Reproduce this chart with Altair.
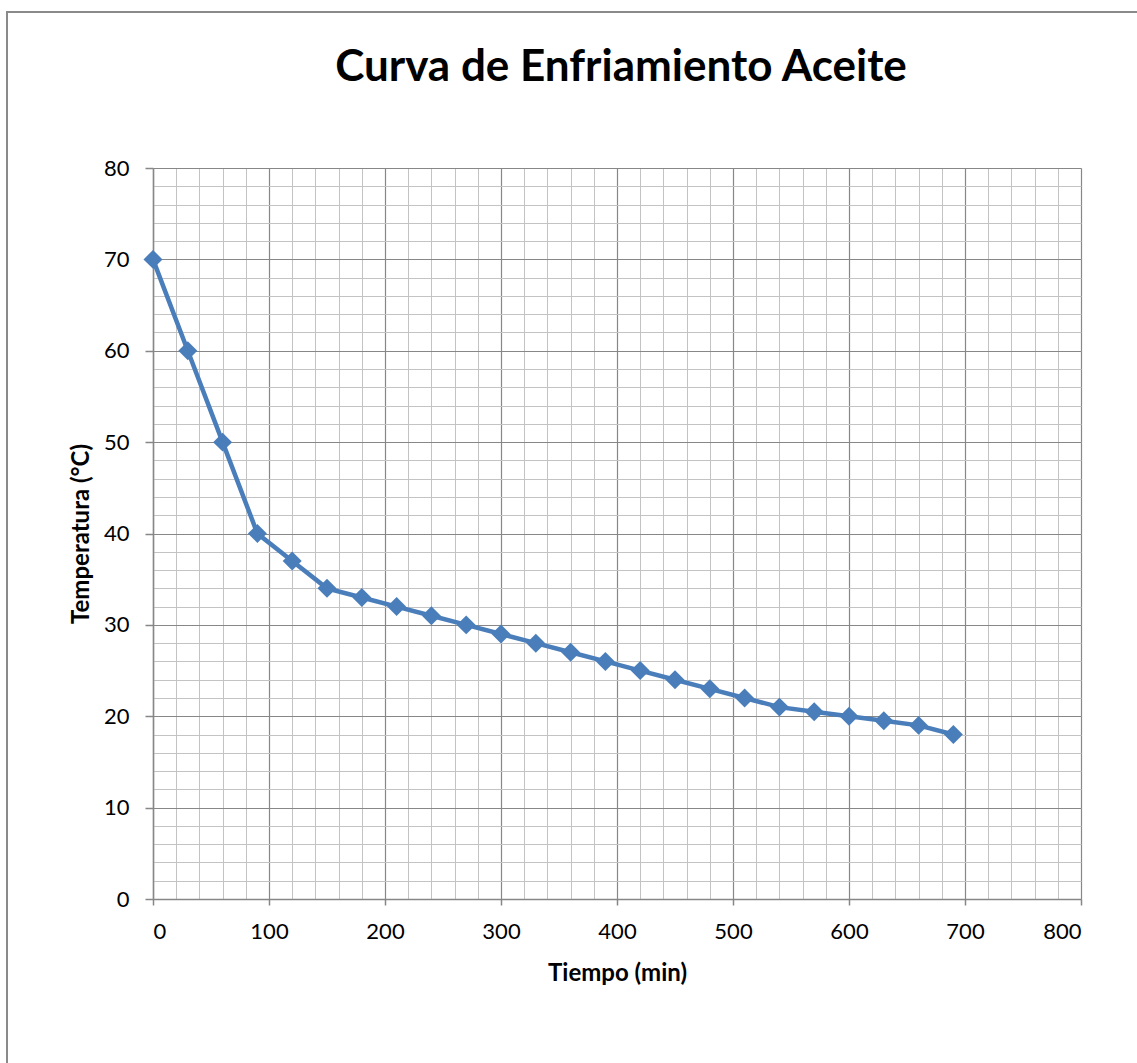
import altair as alt
import pandas as pd

tiempo = [0, 30, 60, 90, 120, 150, 180, 210, 240, 270, 300, 330, 360, 390, 420,
          450, 480, 510, 540, 570, 600, 630, 660, 690]
temperatura = [70, 60, 50, 40, 37, 34, 33, 32, 31, 30, 29, 28, 27, 26, 25,
               24, 23, 22, 21, 20.5, 20, 19.5, 19, 18]

x_major = [0, 100, 200, 300, 400, 500, 600, 700, 800]
y_major = [0, 10, 20, 30, 40, 50, 60, 70, 80]
x_minor = list(range(0, 801, 20))
y_minor = list(range(0, 81, 2))

titulo = "Curva de Enfriamiento Aceite"

df = pd.DataFrame({"Tiempo": tiempo, "Temperatura": temperatura})

FONT = "Lato"
MAJOR = "#878787"
MINOR = "#c3c3c3"
BLUE = "#4a7ebb"

xscale = alt.Scale(domain=[0, 800], nice=False, zero=False)
yscale = alt.Scale(domain=[0, 80], nice=False, zero=False)

minor = alt.Chart(df).mark_point(opacity=0).encode(
    x=alt.X("Tiempo:Q", scale=xscale,
            axis=alt.Axis(orient="bottom", values=x_minor, grid=True, gridColor=MINOR,
                          gridWidth=1, labels=False, ticks=False, domain=False, title=None)),
    y=alt.Y("Temperatura:Q", scale=yscale,
            axis=alt.Axis(orient="left", values=y_minor, grid=True, gridColor=MINOR,
                          gridWidth=1, labels=False, ticks=False, domain=False, title=None)),
)

line = alt.Chart(df).mark_line(color=BLUE, strokeWidth=4.5).encode(
    x=alt.X("Tiempo:Q", scale=xscale,
            axis=alt.Axis(orient="bottom", values=x_major, grid=True, gridColor=MAJOR,
                          gridWidth=1.2, domainColor=MAJOR, domainWidth=1.5, tickColor=MAJOR,
                          tickSize=6, tickWidth=1.5, labelFontSize=22, labelFont=FONT,
                          labelColor="black", labelPadding=16,
                          title="Tiempo (min)", titleFont=FONT, titleFontSize=24,
                          titleFontWeight="bold", titleColor="black", titlePadding=19)),
    y=alt.Y("Temperatura:Q", scale=yscale,
            axis=alt.Axis(orient="left", values=y_major, grid=True, gridColor=MAJOR,
                          gridWidth=1.2, domainColor=MAJOR, domainWidth=1.5, tickColor=MAJOR,
                          tickSize=8, tickWidth=1.5, labelFontSize=22, labelFont=FONT,
                          labelColor="black", labelPadding=16,
                          title="Temperatura (°C)", titleFont=FONT, titleFontSize=24,
                          titleFontWeight="bold", titleColor="black", titlePadding=10)),
)

points = alt.Chart(df).mark_point(shape="diamond", filled=True, color=BLUE, size=360,
                                  opacity=1).encode(
    x=alt.X("Tiempo:Q", scale=xscale, axis=None),
    y=alt.Y("Temperatura:Q", scale=yscale, axis=None),
)

border = alt.Chart(alt.Data(values=[{}])).mark_rect(
    fill=None, stroke="#8a8a8a", strokeWidth=2
).encode(
    x=alt.value(-146), y=alt.value(-156), x2=alt.value(1200), y2=alt.value(1000)
)

title = alt.Chart(alt.Data(values=[{"t": titulo}])).mark_text(
    font=FONT, fontSize=44, fontWeight="bold", color="black",
    align="center", baseline="alphabetic"
).encode(
    x=alt.value(468), y=alt.value(-87), text="t:N"
)

chart = alt.layer(border, minor, line, points, title).resolve_axis(
    x="independent", y="independent"
).properties(
    width=928,
    height=731,
    padding={"left": 153, "top": 168, "right": 56, "bottom": 164},
    autosize=alt.AutoSizeParams(type="none"),
).configure_view(stroke=None).configure(background="white")

chart.save("out.html", embed_options={"renderer": "svg", "actions": False})
